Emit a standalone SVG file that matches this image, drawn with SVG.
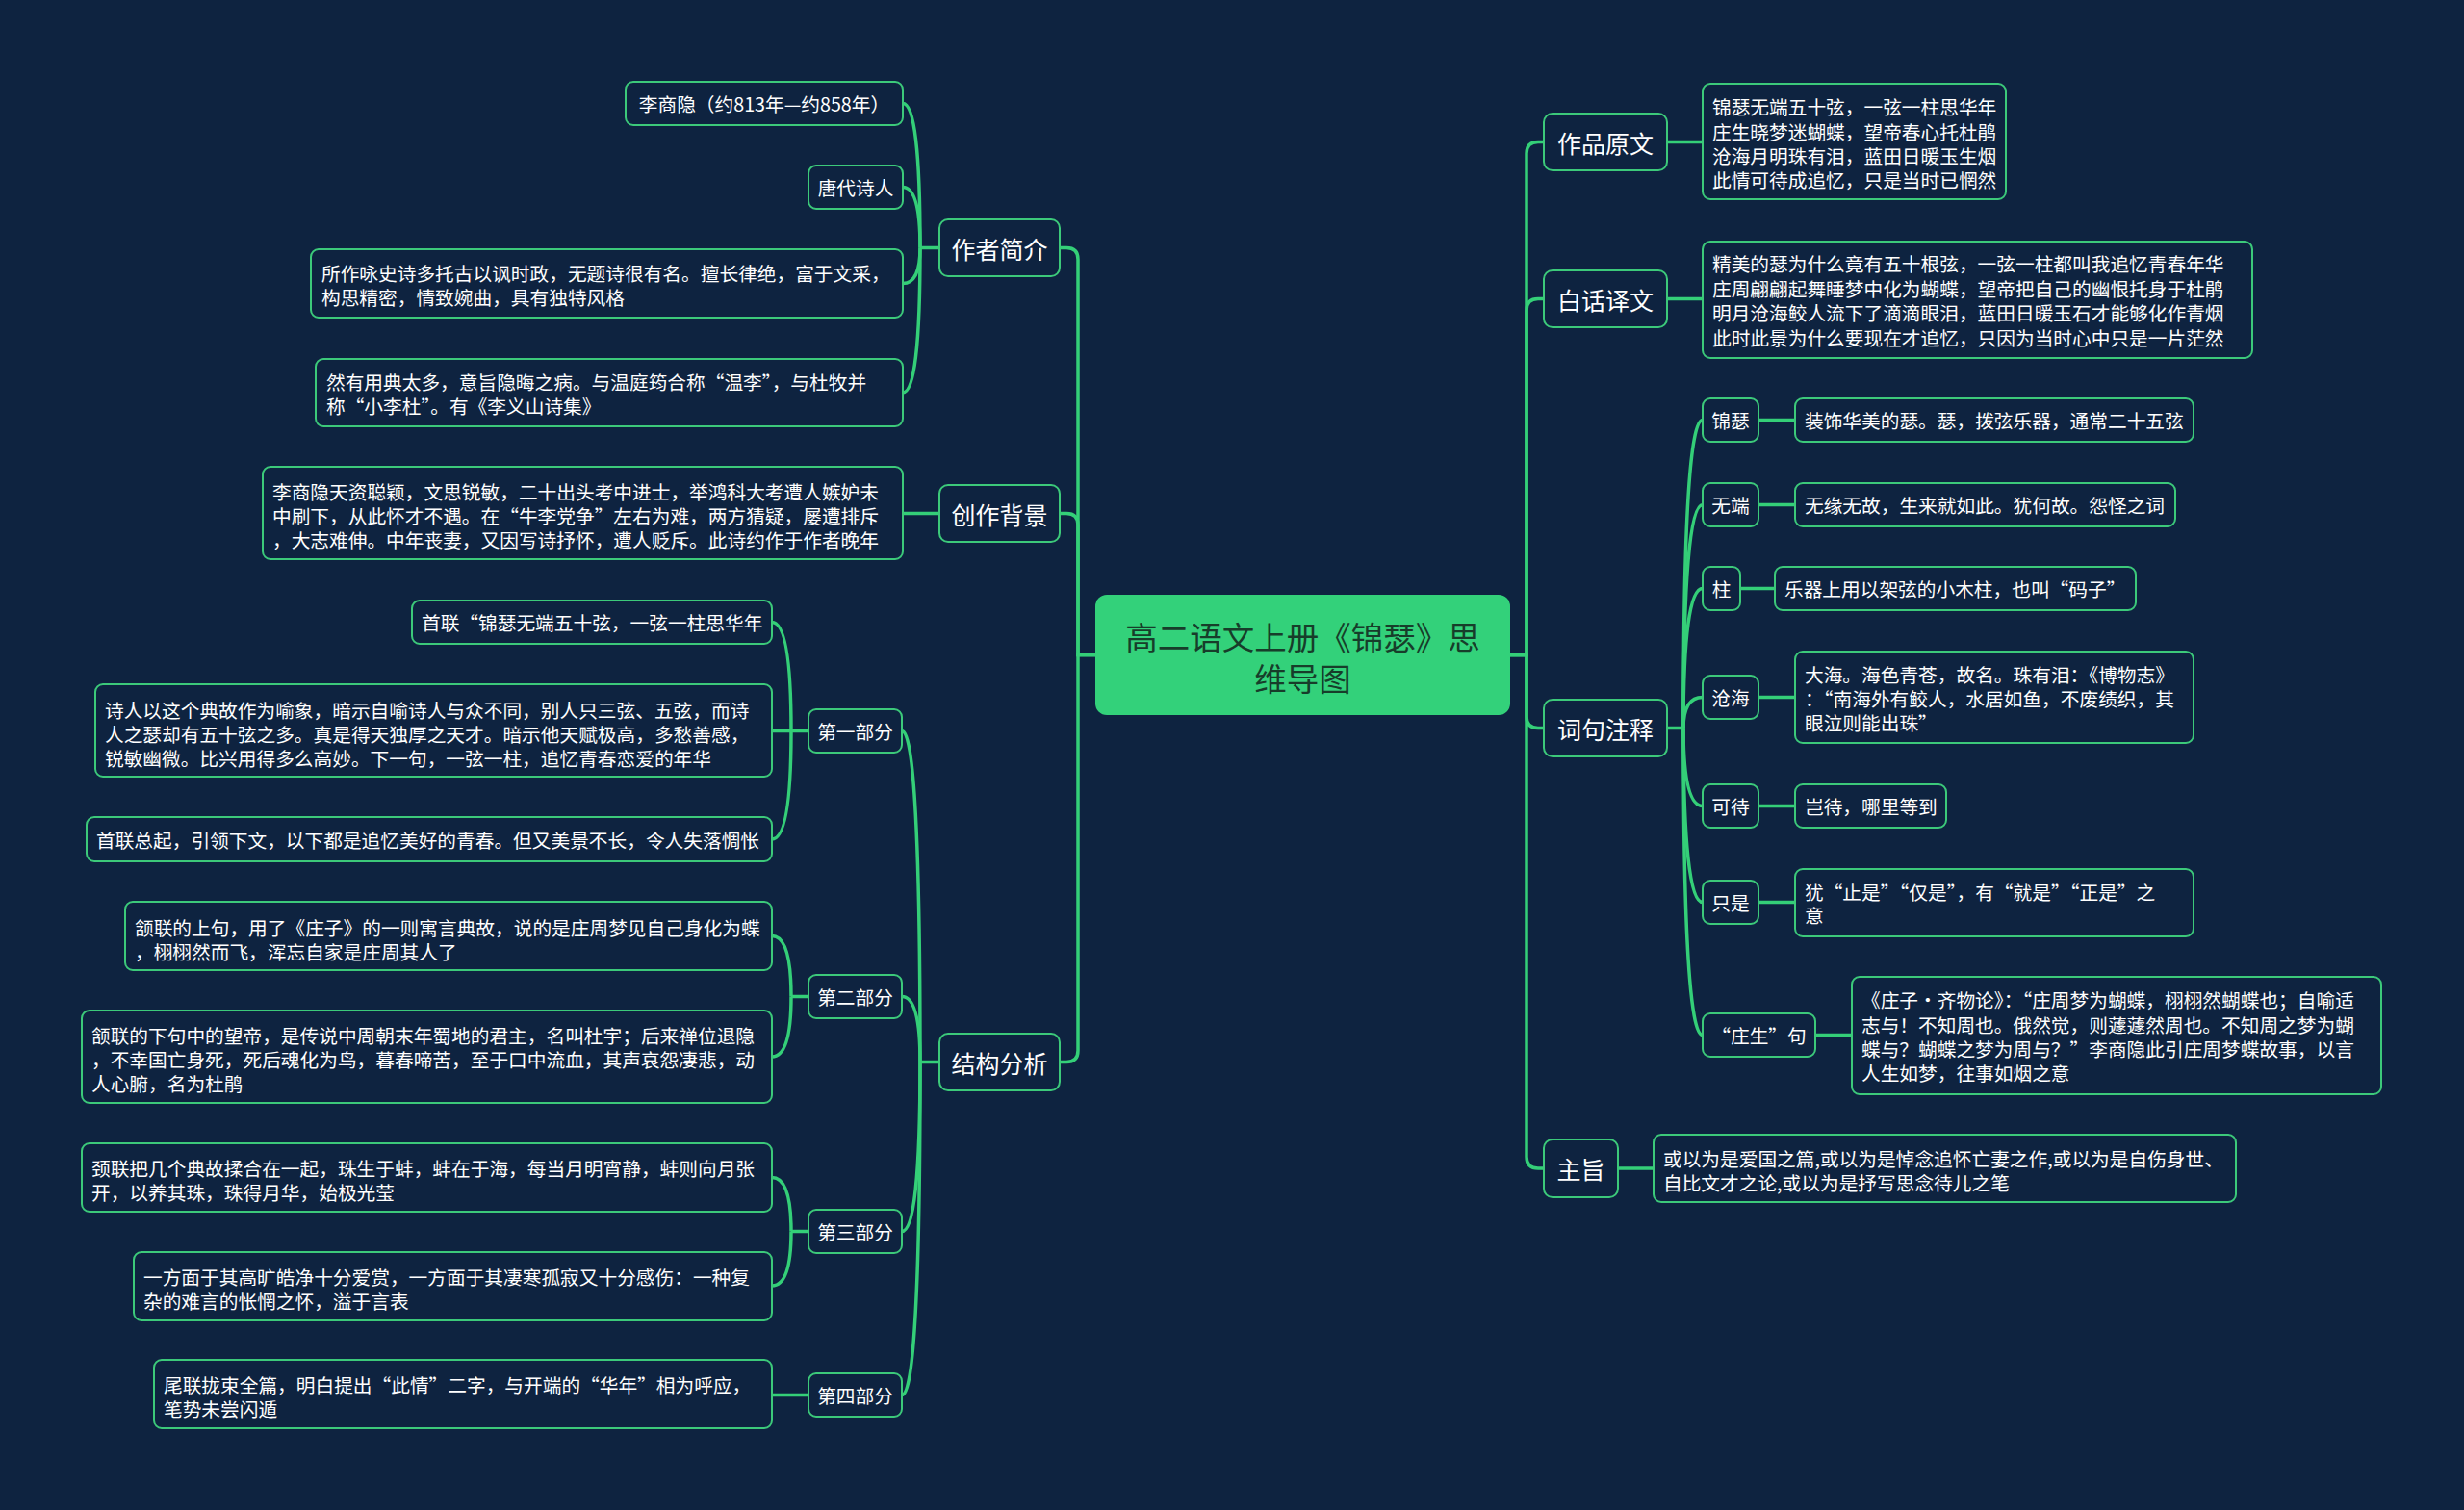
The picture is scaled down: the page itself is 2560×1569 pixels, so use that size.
<svg xmlns="http://www.w3.org/2000/svg" width="2560" height="1569" viewBox="0 0 2560 1569">
<style>
.node rect{fill:#0e2340;stroke:#3cc97a;stroke-width:2}
text{font-family:"Noto Sans CJK SC","Noto Sans",sans-serif;fill:#ffffff;font-size:19.7px;dominant-baseline:central}
.c{text-anchor:middle}
.l1{font-size:25px}
#center rect{fill:#33d17a;stroke:none}
#center text{font-size:33.5px;fill:#173d2a;text-anchor:middle}
#connectors path{fill:none;stroke:#34cf78;stroke-width:3.5}
</style>
<rect width="2560" height="1569" fill="#0e2340"/>
<g id="connectors">
<path d="M1138 680.5 H1120 V269.5 Q1120 257.5 1108 257.5 H1101"/>
<path d="M1138 680.5 H1120 V545.5 Q1120 533.5 1108 533.5 H1101"/>
<path d="M1138 680.5 H1120 V1091.5 Q1120 1103.5 1108 1103.5 H1101"/>
<path d="M1569 680.5 H1586 V159.5 Q1586 147.5 1598 147.5 H1604"/>
<path d="M1569 680.5 H1586 V322.5 Q1586 310.5 1598 310.5 H1604"/>
<path d="M1569 680.5 H1586 V744.5 Q1586 756.5 1598 756.5 H1604"/>
<path d="M1569 680.5 H1586 V1202 Q1586 1214 1598 1214 H1604"/>
<path d="M1732 147.5 H1769"/>
<path d="M1732 310.5 H1769"/>
<path d="M1681 1214 H1718"/>
<path d="M1732 756.5 H1749"/>
<path d="M1749 756.5 Q1749 436.5 1769 436.5"/>
<path d="M1749 756.5 Q1749 524.5 1769 524.5"/>
<path d="M1749 756.5 Q1749 611.5 1769 611.5"/>
<path d="M1749 756.5 Q1749 724.5 1769 724.5"/>
<path d="M1749 756.5 Q1749 837.5 1769 837.5"/>
<path d="M1749 756.5 Q1749 937.5 1769 937.5"/>
<path d="M1749 756.5 Q1749 1075.5 1769 1075.5"/>
<path d="M1827 436.5 H1865"/>
<path d="M1827 524.5 H1865"/>
<path d="M1808 611.5 H1844"/>
<path d="M1827 724.5 H1865"/>
<path d="M1827 837.5 H1865"/>
<path d="M1827 937.5 H1865"/>
<path d="M1886 1075.5 H1924"/>
<path d="M976 257.5 H956"/>
<path d="M956 257.5 Q956 107.5 938 107.5"/>
<path d="M956 257.5 Q956 194.5 938 194.5"/>
<path d="M956 257.5 Q956 294.5 938 294.5"/>
<path d="M956 257.5 Q956 408 938 408"/>
<path d="M976 533.5 H938"/>
<path d="M976 1103.5 H956"/>
<path d="M956 1103.5 Q956 759.5 937 759.5"/>
<path d="M956 1103.5 Q956 1035.5 937 1035.5"/>
<path d="M956 1103.5 Q956 1279.5 937 1279.5"/>
<path d="M956 1103.5 Q956 1449.5 937 1449.5"/>
<path d="M840 759.5 H822"/>
<path d="M822 759.5 Q822 646.5 802 646.5"/>
<path d="M822 759.5 H802"/>
<path d="M822 759.5 Q822 872 802 872"/>
<path d="M840 1035.5 H822"/>
<path d="M822 1035.5 Q822 972.5 802 972.5"/>
<path d="M822 1035.5 Q822 1098 802 1098"/>
<path d="M840 1279.5 H822"/>
<path d="M822 1279.5 Q822 1223.5 802 1223.5"/>
<path d="M822 1279.5 Q822 1336 802 1336"/>
<path d="M840 1449.5 H802"/>
</g>
<g id="center"><rect x="1138" y="618" width="431" height="125" rx="12"/><text><tspan x="1353.5" y="660">高二语文上册《锦瑟》思</tspan><tspan x="1353.5" y="703">维导图</tspan></text></g>

<g id="n-zuozhe" class="node"><rect x="976" y="228" width="125" height="59" rx="9"/><text class="c l1" x="1038.5" y="257.5">作者简介</text></g>
<g id="n-beijing" class="node"><rect x="976" y="504" width="125" height="59" rx="9"/><text class="c l1" x="1038.5" y="533.5">创作背景</text></g>
<g id="n-jiegou" class="node"><rect x="976" y="1074" width="125" height="59" rx="9"/><text class="c l1" x="1038.5" y="1103.5">结构分析</text></g>
<g id="n-yuanwen" class="node"><rect x="1604" y="118" width="128" height="59" rx="9"/><text class="c l1" x="1668" y="147.5">作品原文</text></g>
<g id="n-yiwen" class="node"><rect x="1604" y="281" width="128" height="59" rx="9"/><text class="c l1" x="1668" y="310.5">白话译文</text></g>
<g id="n-zhushi" class="node"><rect x="1604" y="727" width="128" height="59" rx="9"/><text class="c l1" x="1668" y="756.5">词句注释</text></g>
<g id="n-zhuzhi" class="node"><rect x="1604" y="1184" width="77" height="60" rx="9"/><text class="c l1" x="1642.5" y="1214">主旨</text></g>

<g id="n-yuanwen-t" class="node"><rect x="1769" y="87" width="315" height="120" rx="8"/><text x="1779" y="110.5">锦瑟无端五十弦，一弦一柱思华年</text><text x="1779" y="136">庄生晓梦迷蝴蝶，望帝春心托杜鹃</text><text x="1779" y="161">沧海月明珠有泪，蓝田日暖玉生烟</text><text x="1779" y="186.5">此情可待成追忆，只是当时已惘然</text></g>
<g id="n-yiwen-t" class="node"><rect x="1769" y="251" width="571" height="121" rx="8"/><text x="1779" y="273.5">精美的瑟为什么竟有五十根弦，一弦一柱都叫我追忆青春年华</text><text x="1779" y="299">庄周翩翩起舞睡梦中化为蝴蝶，望帝把自己的幽恨托身于杜鹃</text><text x="1779" y="324.5">明月沧海鲛人流下了滴滴眼泪，蓝田日暖玉石才能够化作青烟</text><text x="1779" y="350">此时此景为什么要现在才追忆，只因为当时心中只是一片茫然</text></g>
<g id="n-zhuzhi-t" class="node"><rect x="1718" y="1179" width="605" height="70" rx="8"/><text x="1728" y="1203">或以为是爱国之篇,或以为是悼念追怀亡妻之作,或以为是自伤身世、</text><text x="1728" y="1228.5">自比文才之论,或以为是抒写思念待儿之笔</text></g>

<g id="n-jinse" class="node"><rect x="1769" y="414" width="58" height="45" rx="8"/><text class="c" x="1798" y="436.5">锦瑟</text></g>
<g id="n-jinse-t" class="node"><rect x="1865" y="414" width="414" height="45" rx="8"/><text x="1875" y="436.5">装饰华美的瑟。瑟，拨弦乐器，通常二十五弦</text></g>
<g id="n-wuduan" class="node"><rect x="1769" y="502" width="58" height="45" rx="8"/><text class="c" x="1798" y="524.5">无端</text></g>
<g id="n-wuduan-t" class="node"><rect x="1865" y="502" width="395" height="45" rx="8"/><text x="1875" y="524.5">无缘无故，生来就如此。犹何故。怨怪之词</text></g>
<g id="n-zhu" class="node"><rect x="1769" y="589" width="39" height="45" rx="8"/><text class="c" x="1788.5" y="611.5">柱</text></g>
<g id="n-zhu-t" class="node"><rect x="1844" y="589" width="375" height="45" rx="8"/><text x="1854" y="611.5">乐器上用以架弦的小木柱，也叫“码子”</text></g>
<g id="n-canghai" class="node"><rect x="1769" y="702" width="58" height="45" rx="8"/><text class="c" x="1798" y="724.5">沧海</text></g>
<g id="n-canghai-t" class="node"><rect x="1865" y="677" width="414" height="95" rx="8"/><text x="1875" y="700">大海。海色青苍，故名。珠有泪：《博物志》</text><text x="1875" y="725">：“南海外有鲛人，水居如鱼，不废绩织，其</text><text x="1875" y="750">眼泣则能出珠”</text></g>
<g id="n-kedai" class="node"><rect x="1769" y="815" width="58" height="45" rx="8"/><text class="c" x="1798" y="837.5">可待</text></g>
<g id="n-kedai-t" class="node"><rect x="1865" y="815" width="157" height="45" rx="8"/><text x="1875" y="837.5">岂待，哪里等到</text></g>
<g id="n-zhishi" class="node"><rect x="1769" y="915" width="58" height="45" rx="8"/><text class="c" x="1798" y="937.5">只是</text></g>
<g id="n-zhishi-t" class="node"><rect x="1865" y="903" width="414" height="70" rx="8"/><text x="1875" y="926">犹“止是”“仅是”，有“就是”“正是”之</text><text x="1875" y="950.5">意</text></g>
<g id="n-zhuangsheng" class="node"><rect x="1769" y="1053" width="117" height="45" rx="8"/><text class="c" x="1827.5" y="1075.5">“庄生”句</text></g>
<g id="n-zhuangsheng-t" class="node"><rect x="1924" y="1015" width="550" height="122" rx="8"/><text x="1934" y="1038.5">《庄子·齐物论》：“庄周梦为蝴蝶，栩栩然蝴蝶也；自喻适</text><text x="1934" y="1064">志与！不知周也。俄然觉，则蘧蘧然周也。不知周之梦为蝴</text><text x="1934" y="1089.5">蝶与？蝴蝶之梦为周与？”李商隐此引庄周梦蝶故事，以言</text><text x="1934" y="1114.5">人生如梦，往事如烟之意</text></g>

<g id="n-lishangyin" class="node"><rect x="650" y="85" width="288" height="45" rx="8"/><text class="c" x="794" y="107.5">李商隐（约813年—约858年）</text></g>
<g id="n-tangdai" class="node"><rect x="840" y="172" width="98" height="45" rx="8"/><text class="c" x="889" y="194.5">唐代诗人</text></g>
<g id="n-suozuo" class="node"><rect x="323" y="259" width="615" height="71" rx="8"/><text x="334" y="283">所作咏史诗多托古以讽时政，无题诗很有名。擅长律绝，富于文采，</text><text x="334" y="308">构思精密，情致婉曲，具有独特风格</text></g>
<g id="n-ranyou" class="node"><rect x="328" y="373" width="610" height="70" rx="8"/><text x="339" y="396">然有用典太多，意旨隐晦之病。与温庭筠合称“温李”，与杜牧并</text><text x="339" y="421.5">称“小李杜”。有《李义山诗集》</text></g>
<g id="n-beijing-t" class="node"><rect x="273" y="485" width="665" height="96" rx="8"/><text x="283" y="510">李商隐天资聪颖，文思锐敏，二十出头考中进士，举鸿科大考遭人嫉妒未</text><text x="283" y="535">中刷下，从此怀才不遇。在“牛李党争”左右为难，两方猜疑，屡遭排斥</text><text x="283" y="560">，大志难伸。中年丧妻，又因写诗抒怀，遭人贬斥。此诗约作于作者晚年</text></g>

<g id="n-part1" class="node"><rect x="840" y="737" width="97" height="45" rx="8"/><text class="c" x="888.5" y="759.5">第一部分</text></g>
<g id="n-part2" class="node"><rect x="840" y="1013" width="97" height="45" rx="8"/><text class="c" x="888.5" y="1035.5">第二部分</text></g>
<g id="n-part3" class="node"><rect x="840" y="1257" width="97" height="45" rx="8"/><text class="c" x="888.5" y="1279.5">第三部分</text></g>
<g id="n-part4" class="node"><rect x="840" y="1427" width="97" height="45" rx="8"/><text class="c" x="888.5" y="1449.5">第四部分</text></g>

<g id="n-p1a" class="node"><rect x="428" y="624" width="374" height="45" rx="8"/><text x="438" y="646.5">首联“锦瑟无端五十弦，一弦一柱思华年</text></g>
<g id="n-p1b" class="node"><rect x="99" y="711" width="703" height="96" rx="8"/><text x="109" y="737">诗人以这个典故作为喻象，暗示自喻诗人与众不同，别人只三弦、五弦，而诗</text><text x="109" y="762">人之瑟却有五十弦之多。真是得天独厚之天才。暗示他天赋极高，多愁善感，</text><text x="109" y="787">锐敏幽微。比兴用得多么高妙。下一句，一弦一柱，追忆青春恋爱的年华</text></g>
<g id="n-p1c" class="node"><rect x="90" y="849" width="712" height="46" rx="8"/><text x="100" y="872">首联总起，引领下文，以下都是追忆美好的青春。但又美景不长，令人失落惆怅</text></g>
<g id="n-p2a" class="node"><rect x="130" y="937" width="672" height="71" rx="8"/><text x="140" y="963">颔联的上句，用了《庄子》的一则寓言典故，说的是庄周梦见自己身化为蝶</text><text x="140" y="988">，栩栩然而飞，浑忘自家是庄周其人了</text></g>
<g id="n-p2b" class="node"><rect x="85" y="1050" width="717" height="96" rx="8"/><text x="95" y="1075">颔联的下句中的望帝，是传说中周朝末年蜀地的君主，名叫杜宇；后来禅位退隐</text><text x="95" y="1100">，不幸国亡身死，死后魂化为鸟，暮春啼苦，至于口中流血，其声哀怨凄悲，动</text><text x="95" y="1125">人心腑，名为杜鹃</text></g>
<g id="n-p3a" class="node"><rect x="85" y="1188" width="717" height="71" rx="8"/><text x="95" y="1213">颈联把几个典故揉合在一起，珠生于蚌，蚌在于海，每当月明宵静，蚌则向月张</text><text x="95" y="1238">开，以养其珠，珠得月华，始极光莹</text></g>
<g id="n-p3b" class="node"><rect x="139" y="1301" width="663" height="71" rx="8"/><text x="149" y="1326">一方面于其高旷皓净十分爱赏，一方面于其凄寒孤寂又十分感伤：一种复</text><text x="149" y="1351">杂的难言的怅惘之怀，溢于言表</text></g>
<g id="n-p4a" class="node"><rect x="160" y="1413" width="642" height="71" rx="8"/><text x="170" y="1438">尾联拢束全篇，明白提出“此情”二字，与开端的“华年”相为呼应，</text><text x="170" y="1463">笔势未尝闪遁</text></g>
</svg>
